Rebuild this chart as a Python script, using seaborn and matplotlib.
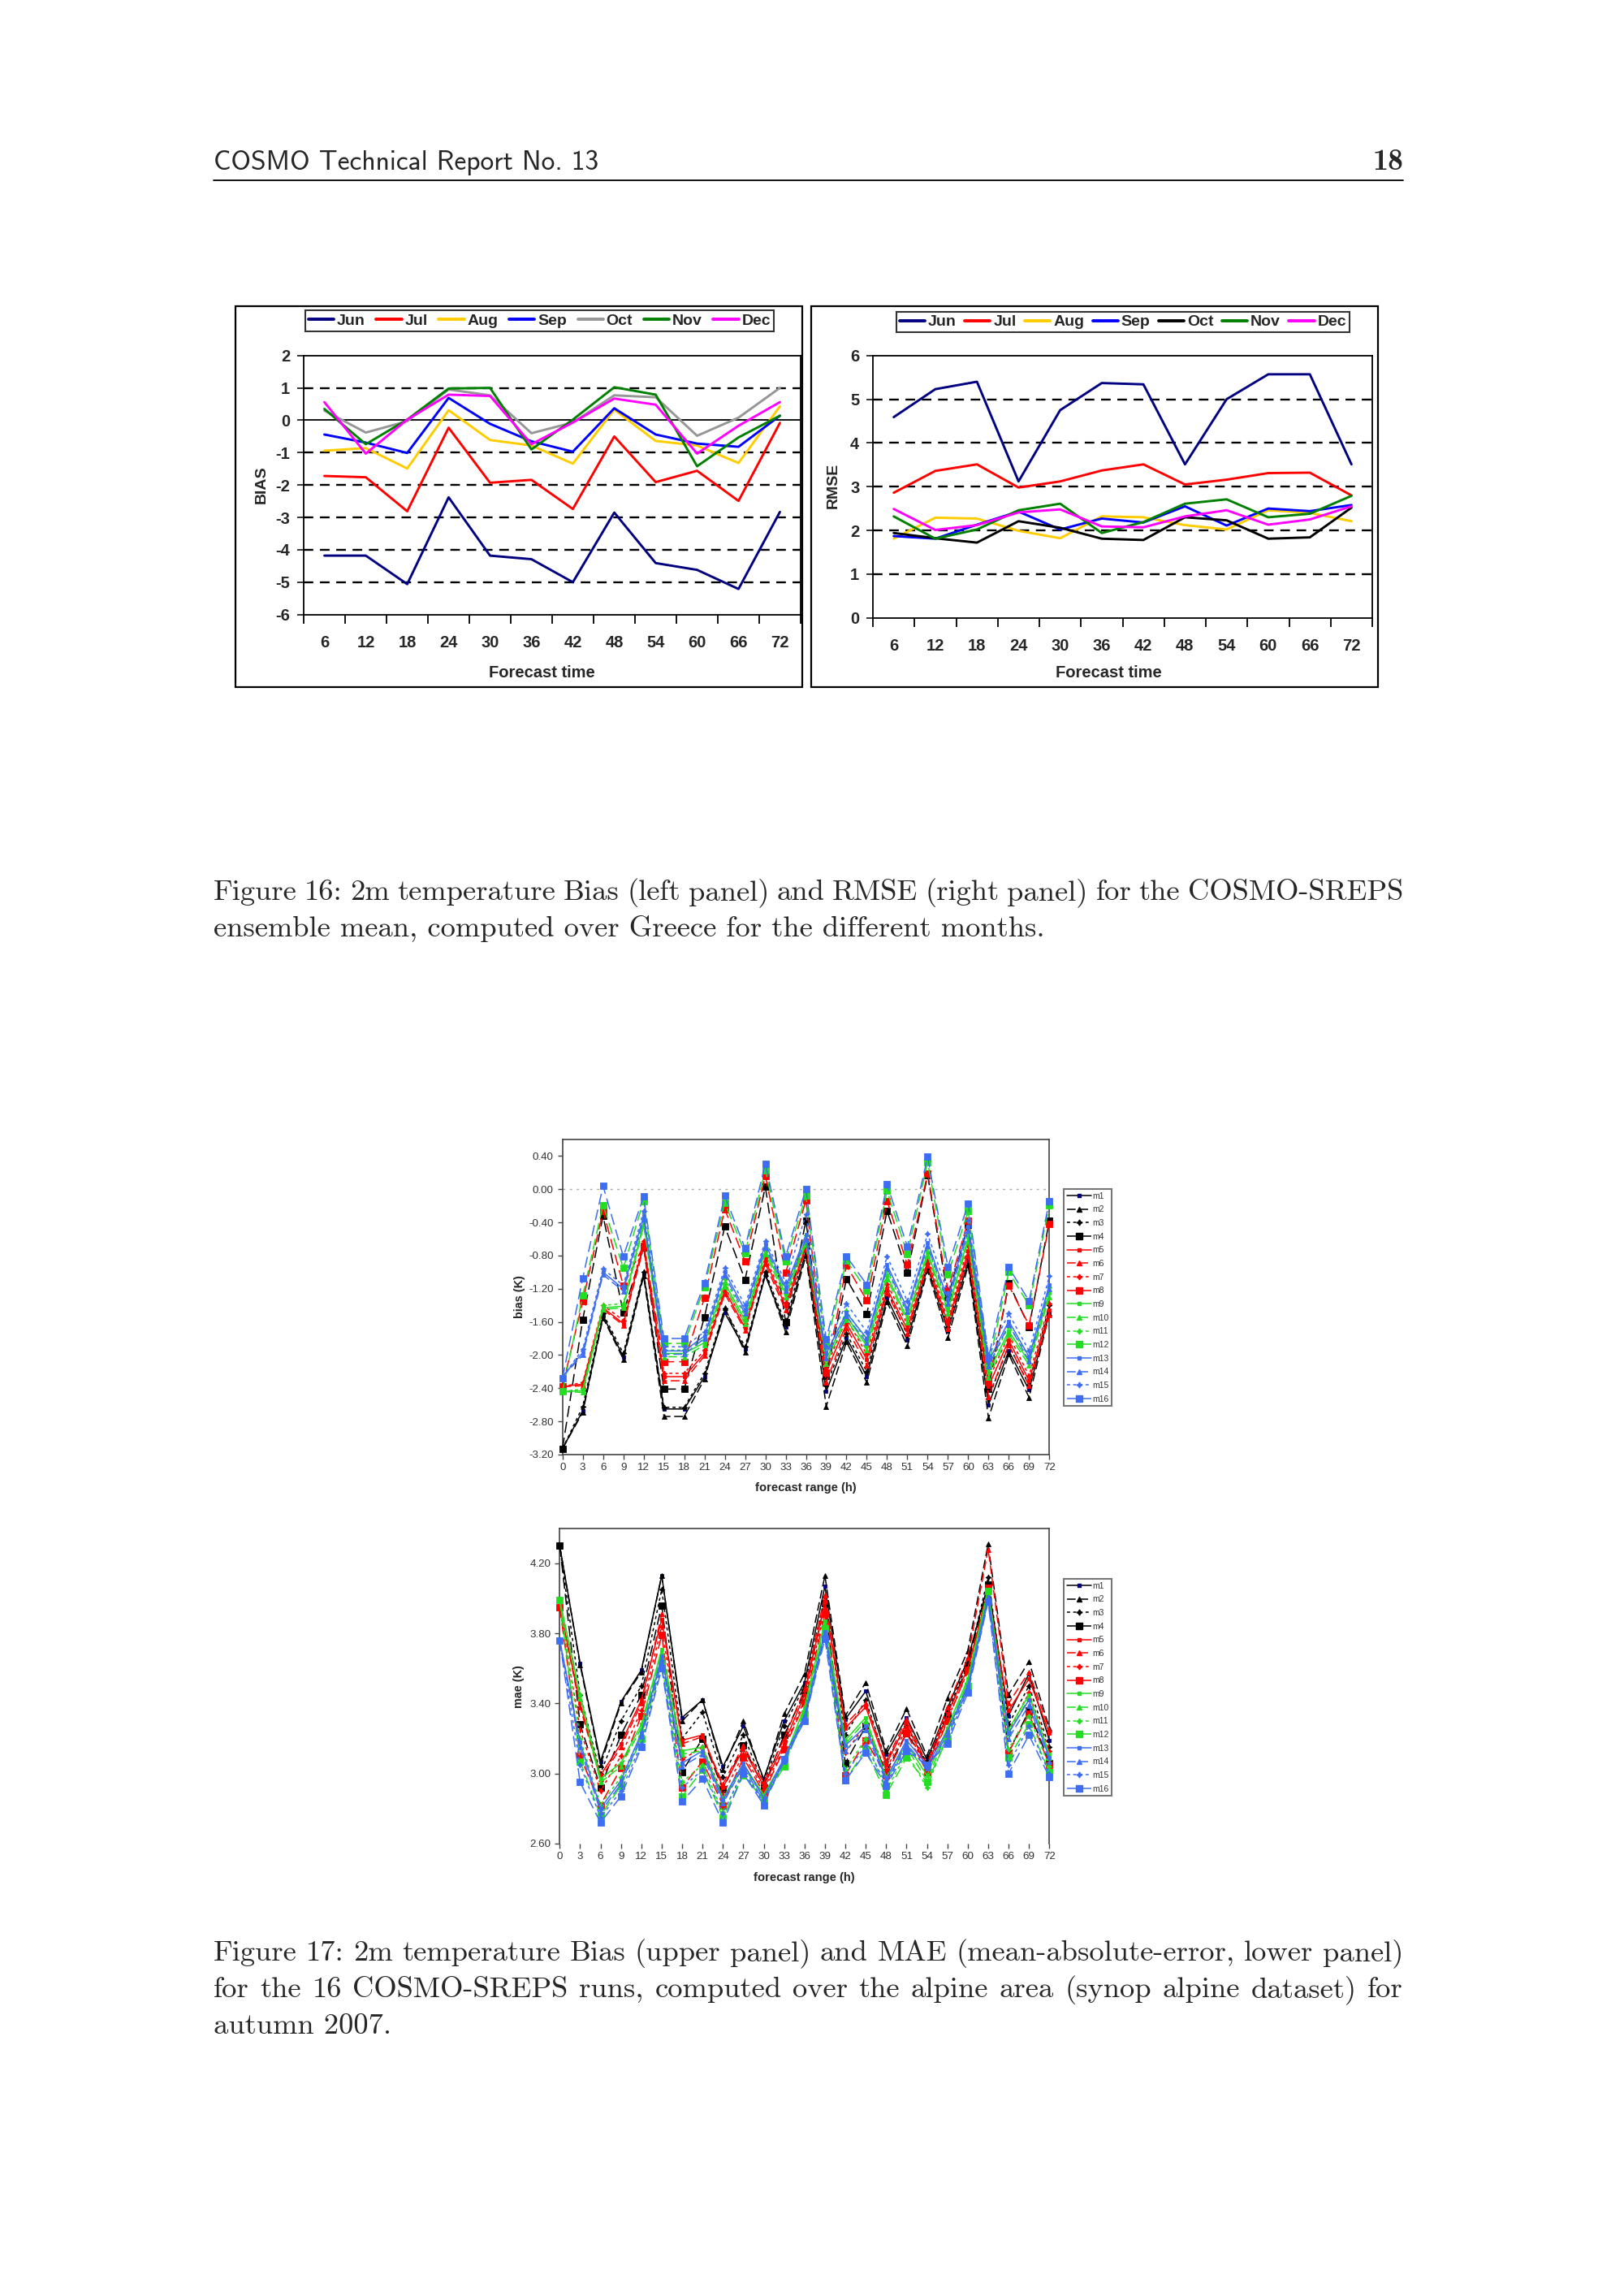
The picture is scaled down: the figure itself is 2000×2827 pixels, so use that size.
import numpy as np
import pandas as pd
import matplotlib
matplotlib.use("Agg")
import matplotlib.pyplot as plt
import seaborn as sns
from matplotlib.lines import Line2D
from matplotlib.patches import Rectangle
from matplotlib import font_manager as fm

# ---- data: Figure 16 (ensemble mean over Greece, per month) ----
months = ["Jun", "Jul", "Aug", "Sep", "Oct", "Nov", "Dec"]
lead_times = [6, 12, 18, 24, 30, 36, 42, 48, 54, 60, 66, 72]

bias_jun = [-4.18, -4.18, -5.06, -2.38, -4.18, -4.29, -5.00, -2.85, -4.41, -4.62, -5.21, -2.83]
bias_jul = [-1.72, -1.76, -2.81, -0.23, -1.93, -1.84, -2.74, -0.50, -1.91, -1.56, -2.49, -0.08]
bias_aug = [-0.94, -0.86, -1.49, 0.31, -0.61, -0.78, -1.34, 0.33, -0.64, -0.78, -1.32, 0.43]
bias_sep = [-0.44, -0.69, -1.01, 0.69, -0.11, -0.65, -0.97, 0.37, -0.44, -0.72, -0.82, 0.14]
bias_oct = [0.30, -0.38, -0.03, 0.95, 0.77, -0.40, -0.07, 0.77, 0.71, -0.48, 0.08, 1.00]
bias_nov = [0.35, -0.74, 0.02, 0.98, 1.00, -0.90, 0.02, 1.02, 0.79, -1.42, -0.53, 0.14]
bias_dec = [0.56, -1.03, 0.02, 0.79, 0.75, -0.74, -0.07, 0.67, 0.48, -1.03, -0.17, 0.56]

rmse_jun = [4.59, 5.23, 5.40, 3.12, 4.75, 5.37, 5.34, 3.51, 5.00, 5.57, 5.57, 3.51]
rmse_jul = [2.86, 3.36, 3.51, 2.98, 3.12, 3.37, 3.51, 3.05, 3.16, 3.31, 3.32, 2.80]
rmse_aug = [1.81, 2.29, 2.27, 1.99, 1.82, 2.32, 2.30, 2.12, 2.02, 2.46, 2.40, 2.21]
rmse_sep = [1.87, 1.81, 2.13, 2.43, 2.02, 2.27, 2.18, 2.55, 2.11, 2.50, 2.44, 2.58]
rmse_oct = [1.94, 1.82, 1.72, 2.21, 2.06, 1.81, 1.78, 2.30, 2.23, 1.81, 1.84, 2.52]
rmse_nov = [2.32, 1.81, 2.02, 2.46, 2.61, 1.94, 2.19, 2.61, 2.71, 2.30, 2.38, 2.79]
rmse_dec = [2.49, 2.01, 2.12, 2.41, 2.48, 2.09, 2.07, 2.32, 2.46, 2.13, 2.25, 2.55]

# ---- data: Figure 17 (16 COSMO-SREPS members, alpine area) ----
forecast_hours = [0, 3, 6, 9, 12, 15, 18, 21, 24, 27, 30, 33, 36,
                  39, 42, 45, 48, 51, 54, 57, 60, 63, 66, 69, 72]
member_names = ["m1", "m2", "m3", "m4", "m5", "m6", "m7", "m8",
                "m9", "m10", "m11", "m12", "m13", "m14", "m15", "m16"]

bias_m1 = [-3.13, -2.67, -1.53, -2.02, -1.02, -2.65, -2.65, -2.26, -1.49, -1.93, -1.04, -1.66, -0.75, -2.44, -1.79, -2.26, -1.31, -1.82, -0.94, -1.71, -0.87, -2.60, -1.95, -2.42, -1.49]
bias_m2 = [-3.13, -2.69, -1.55, -2.05, -1.05, -2.74, -2.74, -2.29, -1.43, -1.97, -1.02, -1.72, -0.80, -2.62, -1.84, -2.33, -1.36, -1.89, -0.98, -1.79, -0.92, -2.76, -1.99, -2.51, -1.50]
bias_m3 = [-3.13, -2.62, -1.50, -1.98, -1.00, -2.63, -2.63, -2.22, -1.44, -1.90, -1.00, -1.62, -0.66, -2.37, -1.74, -2.20, -1.22, -1.76, -0.90, -1.66, -0.80, -2.52, -1.88, -2.36, -1.40]
bias_m4 = [-3.13, -1.57, -0.32, -1.49, -0.70, -2.41, -2.41, -1.54, -0.45, -1.09, 0.03, -1.60, -0.38, -2.25, -1.08, -1.51, -0.26, -1.01, 0.17, -1.30, -0.43, -2.41, -1.13, -1.66, -0.38]
bias_m5 = [-2.38, -2.35, -1.43, -1.62, -0.66, -2.26, -2.26, -1.98, -1.22, -1.67, -0.86, -1.41, -0.68, -2.21, -1.62, -2.05, -1.20, -1.69, -0.87, -1.62, -0.74, -2.38, -1.82, -2.31, -1.46]
bias_m6 = [-2.38, -2.37, -1.45, -1.64, -0.70, -2.31, -2.31, -2.01, -1.26, -1.70, -0.90, -1.46, -0.72, -2.33, -1.67, -2.12, -1.25, -1.74, -0.92, -1.68, -0.80, -2.50, -1.88, -2.37, -1.52]
bias_m7 = [-2.38, -2.33, -1.40, -1.58, -0.62, -2.22, -2.22, -1.94, -1.18, -1.62, -0.82, -1.37, -0.60, -2.15, -1.56, -1.99, -1.14, -1.63, -0.82, -1.57, -0.68, -2.30, -1.76, -2.25, -1.38]
bias_m8 = [-2.38, -1.35, -0.26, -1.16, -0.68, -2.08, -2.08, -1.31, -0.24, -0.87, 0.16, -1.01, -0.13, -2.21, -0.92, -1.34, -0.14, -0.91, 0.19, -1.22, -0.38, -2.33, -1.16, -1.64, -0.42]
bias_m9 = [-2.44, -2.43, -1.43, -1.41, -0.40, -1.98, -1.98, -1.85, -1.13, -1.58, -0.74, -1.26, -0.62, -2.05, -1.53, -1.89, -1.04, -1.56, -0.76, -1.46, -0.58, -2.21, -1.71, -2.08, -1.25]
bias_m10 = [-2.44, -2.45, -1.45, -1.43, -0.44, -2.02, -2.02, -1.88, -1.17, -1.62, -0.78, -1.30, -0.66, -2.10, -1.57, -1.94, -1.08, -1.60, -0.80, -1.50, -0.62, -2.27, -1.75, -2.12, -1.30]
bias_m11 = [-2.44, -2.41, -1.40, -1.38, -0.36, -1.94, -1.94, -1.81, -1.08, -1.53, -0.70, -1.21, -0.56, -1.99, -1.47, -1.83, -0.98, -1.50, -0.70, -1.40, -0.52, -2.15, -1.65, -2.02, -1.18]
bias_m12 = [-2.44, -1.28, -0.19, -0.95, -0.14, -1.86, -1.86, -1.18, -0.16, -0.77, 0.23, -0.87, -0.08, -1.89, -0.86, -1.22, -0.02, -0.78, 0.33, -1.03, -0.26, -2.13, -1.00, -1.40, -0.19]
bias_m13 = [-2.26, -1.97, -1.00, -1.20, -0.32, -1.95, -1.95, -1.77, -1.00, -1.46, -0.66, -1.18, -0.55, -1.98, -1.49, -1.80, -0.91, -1.44, -0.64, -1.33, -0.45, -2.08, -1.59, -2.02, -1.15]
bias_m14 = [-2.26, -2.00, -1.03, -1.23, -0.36, -1.99, -1.99, -1.80, -1.04, -1.50, -0.70, -1.22, -0.60, -2.03, -1.53, -1.85, -0.95, -1.48, -0.68, -1.38, -0.50, -2.13, -1.63, -2.07, -1.20]
bias_m15 = [-2.26, -1.93, -0.96, -1.16, -0.26, -1.90, -1.90, -1.72, -0.95, -1.40, -0.62, -1.12, -0.30, -1.90, -1.38, -1.72, -0.81, -1.35, -0.54, -1.25, -0.38, -2.00, -1.50, -1.95, -1.05]
bias_m16 = [-2.28, -1.07, 0.04, -0.81, -0.09, -1.80, -1.80, -1.13, -0.08, -0.71, 0.31, -0.81, 0.00, -1.81, -0.81, -1.15, 0.06, -0.69, 0.39, -0.94, -0.17, -2.03, -0.94, -1.35, -0.14]

mae_m1 = [4.30, 3.63, 3.07, 3.41, 3.59, 4.13, 3.32, 3.42, 3.04, 3.27, 2.97, 3.30, 3.52, 4.07, 3.31, 3.47, 3.11, 3.32, 3.08, 3.37, 3.65, 4.08, 3.33, 3.57, 3.19]
mae_m2 = [4.30, 3.62, 3.05, 3.40, 3.58, 4.13, 3.30, 3.42, 3.02, 3.30, 2.96, 3.34, 3.57, 4.13, 3.33, 3.52, 3.13, 3.37, 3.10, 3.43, 3.70, 4.31, 3.45, 3.64, 3.26]
mae_m3 = [4.30, 3.45, 3.00, 3.30, 3.50, 4.05, 3.20, 3.35, 2.98, 3.22, 2.94, 3.27, 3.50, 4.01, 3.22, 3.42, 3.07, 3.27, 3.06, 3.35, 3.63, 4.12, 3.28, 3.50, 3.15]
mae_m4 = [4.30, 3.28, 2.92, 3.22, 3.45, 3.96, 3.01, 3.20, 2.91, 3.16, 2.92, 3.22, 3.46, 3.97, 3.06, 3.27, 3.01, 3.23, 3.06, 3.33, 3.62, 4.08, 3.12, 3.36, 3.06]
mae_m5 = [3.95, 3.40, 2.99, 3.17, 3.42, 3.88, 3.19, 3.22, 2.92, 3.14, 2.93, 3.17, 3.45, 3.98, 3.26, 3.38, 3.05, 3.29, 3.03, 3.34, 3.60, 4.03, 3.36, 3.54, 3.23]
mae_m6 = [3.95, 3.38, 2.97, 3.15, 3.40, 3.91, 3.17, 3.21, 2.94, 3.16, 2.95, 3.20, 3.48, 4.02, 3.28, 3.40, 3.07, 3.31, 3.05, 3.38, 3.66, 4.28, 3.40, 3.58, 3.25]
mae_m7 = [3.95, 3.25, 2.90, 3.10, 3.36, 3.84, 3.08, 3.15, 2.88, 3.11, 2.91, 3.15, 3.42, 3.94, 3.12, 3.28, 3.02, 3.26, 3.02, 3.31, 3.58, 4.06, 3.24, 3.46, 3.13]
mae_m8 = [3.95, 3.10, 2.82, 3.03, 3.33, 3.79, 2.92, 3.07, 2.82, 3.09, 2.89, 3.14, 3.40, 3.91, 2.99, 3.19, 2.99, 3.23, 3.01, 3.30, 3.59, 4.06, 3.12, 3.34, 3.05]
mae_m9 = [3.99, 3.45, 2.97, 3.06, 3.28, 3.71, 3.13, 3.15, 2.86, 3.05, 2.88, 3.08, 3.38, 3.87, 3.19, 3.32, 2.98, 3.17, 2.99, 3.26, 3.54, 4.05, 3.25, 3.45, 3.11]
mae_m10 = [3.99, 3.43, 2.95, 3.04, 3.26, 3.69, 3.11, 3.13, 2.85, 3.04, 2.87, 3.06, 3.36, 3.85, 3.17, 3.30, 2.96, 3.15, 2.96, 3.24, 3.52, 4.03, 3.23, 3.43, 3.09]
mae_m11 = [3.99, 3.20, 2.82, 2.98, 3.22, 3.66, 2.95, 3.05, 2.78, 3.00, 2.86, 3.05, 3.34, 3.82, 3.02, 3.20, 2.90, 3.12, 2.92, 3.22, 3.52, 4.04, 3.14, 3.33, 3.04]
mae_m12 = [3.99, 3.07, 2.76, 2.93, 3.20, 3.63, 2.87, 3.02, 2.75, 2.99, 2.85, 3.04, 3.34, 3.83, 2.96, 3.14, 2.88, 3.09, 2.95, 3.20, 3.50, 4.04, 3.09, 3.28, 3.01]
mae_m13 = [3.76, 3.18, 2.80, 2.96, 3.23, 3.67, 3.06, 3.13, 2.85, 3.06, 2.86, 3.09, 3.33, 3.81, 3.16, 3.27, 2.97, 3.19, 3.05, 3.24, 3.50, 4.01, 3.23, 3.42, 3.09]
mae_m14 = [3.76, 3.15, 2.78, 2.94, 3.21, 3.65, 3.04, 3.11, 2.83, 3.04, 2.84, 3.07, 3.31, 3.79, 3.13, 3.25, 2.95, 3.17, 3.03, 3.22, 3.48, 3.99, 3.20, 3.39, 3.07]
mae_m15 = [3.76, 3.05, 2.75, 2.90, 3.17, 3.62, 2.92, 3.02, 2.77, 3.02, 2.83, 3.08, 3.31, 3.79, 3.00, 3.16, 2.94, 3.15, 3.04, 3.19, 3.48, 3.99, 3.05, 3.27, 3.00]
mae_m16 = [3.76, 2.95, 2.72, 2.87, 3.15, 3.60, 2.84, 2.97, 2.72, 3.00, 2.82, 3.08, 3.30, 3.77, 2.96, 3.12, 2.93, 3.13, 3.05, 3.17, 3.46, 3.98, 3.00, 3.22, 2.98]

bias_ticks = [0.4, 0.0, -0.4, -0.8, -1.2, -1.6, -2.0, -2.4, -2.8, -3.2]
bias_tick_labels = ["0.40", "0.00", "-0.40", "-0.80", "-1.20", "-1.60", "-2.00", "-2.40", "-2.80", "-3.20"]
mae_ticks = [4.2, 3.8, 3.4, 3.0, 2.6]
mae_tick_labels = ["4.20", "3.80", "3.40", "3.00", "2.60"]

# ---- style ----
sns.set_style("ticks")
plt.rcParams["font.family"] = ["Liberation Sans", "DejaVu Sans"]
plt.rcParams["axes.unicode_minus"] = False
installed = {f.name for f in fm.fontManager.ttflist}
narrow = "Liberation Sans Narrow" if "Liberation Sans Narrow" in installed else "Liberation Sans"

W, H = 2000, 2827
fig = plt.figure(figsize=(W / 100, H / 100), dpi=100)
renderer = fig.canvas.get_renderer()


def fx(x):
    return x / W


def fy(y):
    return 1 - y / H


def rect(x0, y0, x1, y1):
    return [x0 / W, 1 - y1 / H, (x1 - x0) / W, (y1 - y0) / H]


def fit_size(text, family, target_px, weight="normal", base=20):
    t = fig.text(0, 0, text, family=family, fontsize=base, weight=weight)
    w = t.get_window_extent(renderer).width
    t.remove()
    return base * target_px / w


# ---- page header ----
head_fs = fit_size("COSMO Technical Report No. 13", "cmss10", 475)
fig.text(fx(263), fy(209), "COSMO Technical Report No. 13", family="cmss10",
         fontsize=head_fs, va="baseline", ha="left")
num_fs = fit_size("18", "cmb10", 38)
fig.text(fx(1728), fy(209), "18", family="cmb10", fontsize=num_fs, va="baseline", ha="right")
fig.add_artist(Line2D([fx(263), fx(1728)], [fy(222), fy(222)], color="black", lw=1.3))

# ---- captions (justified like LaTeX) ----
cap_fs = fit_size("autumn 2007.", "cmr10", 219)


def caption_line(text, ybase, justify=True, x0=263, x1=1728):
    if not justify:
        fig.text(fx(x0), fy(ybase), text, family="cmr10", fontsize=cap_fs, va="baseline")
        return
    words = text.split(" ")
    objs = [fig.text(0, fy(ybase), w, family="cmr10", fontsize=cap_fs, va="baseline")
            for w in words]
    widths = [o.get_window_extent(renderer).width for o in objs]
    gap = (x1 - x0 - sum(widths)) / (len(words) - 1)
    x = x0
    for o, w in zip(objs, widths):
        o.set_x(fx(x))
        x += w + gap


caption_line("Figure 16: 2m temperature Bias (left panel) and RMSE (right panel) for the COSMO-SREPS", 1108)
caption_line("ensemble mean, computed over Greece for the different months.", 1153, justify=False)
caption_line("Figure 17: 2m temperature Bias (upper panel) and MAE (mean-absolute-error, lower panel)", 2414)
caption_line("for the 16 COSMO-SREPS runs, computed over the alpine area (synop alpine dataset) for", 2459)
caption_line("autumn 2007.", 2504, justify=False)

# ---- Figure 16 panels ----
month_colors_left = ["#000080", "#FF0000", "#FFCC00", "#0000FF", "#969696", "#008000", "#FF00FF"]
month_colors_right = ["#000080", "#FF0000", "#FFCC00", "#0000FF", "#000000", "#008000", "#FF00FF"]
cat_pos = list(range(len(lead_times)))


def month_panel(ax, series, colors, ylim, zero_line):
    for vals, c in zip(series, colors):
        sns.lineplot(x=cat_pos, y=vals, ax=ax, color=c, linewidth=2.1, zorder=3)
    ax.set_xlim(-0.5, 11.5)
    ax.set_ylim(*ylim)
    for yv in range(ylim[0] + 1, ylim[1]):
        if yv == 0 and zero_line:
            ax.axhline(0, color="black", lw=1.3, zorder=2)
        else:
            ax.axhline(yv, color="black", lw=1.7, ls=(0, (5, 3.5)), zorder=1)
    ax.set_yticks(list(range(ylim[0], ylim[1] + 1)))
    ax.set_xticks([p - 0.5 for p in cat_pos] + [11.5])
    ax.set_xticklabels([])
    ax.set_xticks(cat_pos, minor=True)
    ax.set_xticklabels([str(v) for v in lead_times], minor=True)
    ax.tick_params(axis="x", which="major", bottom=True, length=8, width=1.3, direction="out", color="black")
    ax.tick_params(axis="x", which="minor", bottom=True, length=0, pad=18, labelsize=14.5)
    ax.tick_params(axis="y", left=True, length=6, width=1.3, direction="out", labelsize=14.5, pad=6)
    for lbl in ax.get_xticklabels(minor=True) + ax.get_yticklabels():
        lbl.set_fontfamily(narrow)
        lbl.set_fontweight("bold")
    for sp in ax.spines.values():
        sp.set_visible(True)
        sp.set_color("black")
        sp.set_linewidth(1.3)
    ax.set_xlabel("")
    ax.set_ylabel("")


def month_legend(ax, colors, x0, x1, y0, y1):
    handles = [Line2D([], [], color=c, lw=2.8) for c in colors]
    ax.legend(handles, months, loc="center", ncol=7, mode="expand",
              bbox_to_anchor=(fx(x0), fy(y1), (x1 - x0) / W, (y1 - y0) / H),
              bbox_transform=fig.transFigure, borderaxespad=0, frameon=True,
              fancybox=False, edgecolor="black", handlelength=1.6, handletextpad=0.2,
              columnspacing=0.2, borderpad=0.2,
              prop={"family": narrow, "weight": "bold", "size": 14})
    ax.get_legend().get_frame().set_linewidth(1.5)


ax_mb = fig.add_axes(rect(374, 437.7, 986, 756.7))
month_panel(ax_mb, [bias_jun, bias_jul, bias_aug, bias_sep, bias_oct, bias_nov, bias_dec],
            month_colors_left, (-6, 2), True)
month_legend(ax_mb, month_colors_left, 376, 953, 381, 409)
fig.text(fx(322), fy(597), "BIAS", rotation=90, ha="center", va="center",
         fontsize=14, weight="bold")
fig.text(fx(667), fy(829), "Forecast time", ha="center", va="center",
         fontsize=14.5, weight="bold", family=narrow)

ax_mr = fig.add_axes(rect(1075, 437.7, 1690, 760.7))
month_panel(ax_mr, [rmse_jun, rmse_jul, rmse_aug, rmse_sep, rmse_oct, rmse_nov, rmse_dec],
            month_colors_right, (0, 6), False)
month_legend(ax_mr, month_colors_right, 1104, 1662, 382, 411)
fig.text(fx(1026), fy(598), "RMSE", rotation=90, ha="center", va="center",
         fontsize=14, weight="bold")
fig.text(fx(1365), fy(829), "Forecast time", ha="center", va="center",
         fontsize=14.5, weight="bold", family=narrow)

for bx in (290, 999):
    fig.add_artist(Rectangle((fx(bx), fy(846)), 698 / W, 469 / H, transform=fig.transFigure,
                             fill=False, lw=1.6, ec="black"))

# ---- Figure 17 panels ----
group_colors = ["#000000", "#FF0000", "#22DD22", "#3D6DF2"]
member_styles = [
    dict(ls="-", marker="s", ms=3.2),
    dict(ls=(0, (7, 3)), marker="^", ms=4.2),
    dict(ls=(0, (2.5, 2.5)), marker=(4, 1, 0), ms=5.0),
    dict(ls=(0, (9, 4)), marker="s", ms=6.2),
]


def member_style(i):
    color = group_colors[i // 4]
    st = member_styles[i % 4]
    mc = "#000080" if i == 0 else color
    return color, st, mc


def member_panel(ax, series, ylim, ticks, tick_labels, hide_bottom):
    for i, vals in enumerate(series):
        color, st, mc = member_style(i)
        sns.lineplot(x=forecast_hours, y=vals, ax=ax, color=color, linewidth=1.1,
                     linestyle=st["ls"], marker=st["marker"], markersize=st["ms"],
                     markerfacecolor=mc, markeredgecolor=mc, markeredgewidth=0.6,
                     clip_on=False, zorder=3)
    ax.set_xlim(0, 72)
    ax.set_ylim(*ylim)
    ax.set_xticks(forecast_hours)
    ax.set_xticklabels([str(h) for h in forecast_hours])
    ax.set_yticks(ticks)
    ax.set_yticklabels(tick_labels)
    ax.tick_params(axis="both", bottom=True, left=True, length=4, width=1.0, direction="out",
                   color="#444444", labelsize=9.6, labelcolor="#333333")
    ax.tick_params(axis="x", pad=3)
    ax.tick_params(axis="y", pad=4)
    for sp in ax.spines.values():
        sp.set_visible(True)
        sp.set_color("#444444")
        sp.set_linewidth(1.2)
    if hide_bottom:
        ax.spines["bottom"].set_visible(False)
    ax.set_xlabel("")
    ax.set_ylabel("")


def member_legend(ax, x0, y0):
    handles = []
    for i in range(16):
        color, st, mc = member_style(i)
        handles.append(Line2D([], [], color=color, lw=1.1, ls=st["ls"], marker=st["marker"],
                              ms=st["ms"], mfc=mc, mec=mc))
    leg = ax.legend(handles, member_names, loc="upper left", bbox_to_anchor=(fx(x0), fy(y0)),
                    bbox_transform=fig.transFigure, borderaxespad=0, frameon=True, fancybox=False,
                    edgecolor="#555555", fontsize=7.5, handlelength=2.9, handletextpad=0.15,
                    labelspacing=0.64, borderpad=0.35, labelcolor="#333333")
    leg.get_frame().set_linewidth(1.5)


ax_bias = fig.add_axes(rect(692.7, 1403, 1292.3, 1791))
ax_bias.axhline(0, color="#AAAAAA", lw=1.0, ls=(0, (2, 4)), zorder=1)
member_panel(ax_bias, [bias_m1, bias_m2, bias_m3, bias_m4, bias_m5, bias_m6, bias_m7, bias_m8,
                       bias_m9, bias_m10, bias_m11, bias_m12, bias_m13, bias_m14, bias_m15, bias_m16],
             (-3.2, 0.6), bias_ticks, bias_tick_labels, False)
member_legend(ax_bias, 1310, 1464)
fig.text(fx(640), fy(1597), "bias (K)", rotation=90, ha="center", va="center",
         fontsize=10.4, weight="bold")
fig.text(fx(992), fy(1832), "forecast range (h)", ha="center", va="center",
         fontsize=10.6, weight="bold")

ax_mae = fig.add_axes(rect(689.3, 1881.7, 1292.3, 2270))
member_panel(ax_mae, [mae_m1, mae_m2, mae_m3, mae_m4, mae_m5, mae_m6, mae_m7, mae_m8,
                      mae_m9, mae_m10, mae_m11, mae_m12, mae_m13, mae_m14, mae_m15, mae_m16],
             (2.6, 4.4), mae_ticks, mae_tick_labels, True)
member_legend(ax_mae, 1310, 1944)
fig.text(fx(639), fy(2077), "mae (K)", rotation=90, ha="center", va="center",
         fontsize=10.4, weight="bold")
fig.text(fx(990), fy(2312), "forecast range (h)", ha="center", va="center",
         fontsize=10.6, weight="bold")

fig.savefig("out.png", dpi=100, facecolor="white")
